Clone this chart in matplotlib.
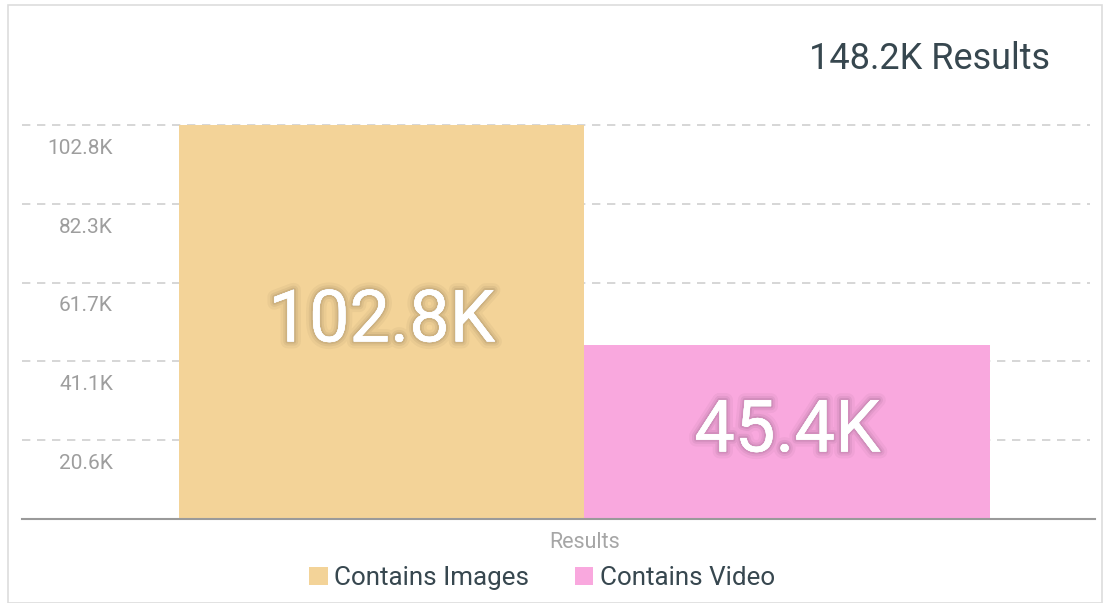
import matplotlib
matplotlib.use("Agg")
import matplotlib.pyplot as plt
import matplotlib.patheffects as pe
from matplotlib.patches import Patch, Rectangle

plt.rcParams['font.family'] = ['Roboto', 'DejaVu Sans']

categories = ["Contains Images", "Contains Video"]
values = [102.8, 45.4]  # thousands
colors = ["#F3D398", "#F9A8DE"]
ytick_vals = [20.56, 41.12, 61.68, 82.24, 102.8]
ytick_labels = ["20.6K", "41.1K", "61.7K", "82.3K", "102.8K"]
total_label = "148.2K Results"
xlabel = "Results"

W, H = 1110, 603
fig = plt.figure(figsize=(W / 100, H / 100), dpi=100)

# outer card border
fig.patches.append(Rectangle((8 / W, 0), (1102 - 8) / W, 1 - 5 / H, transform=fig.transFigure,
                             fill=False, edgecolor="#DDDDDD", linewidth=1.2))

ax = fig.add_axes([22 / W, 1 - 519 / H, (1095 - 22) / W, (519 - 100) / H])
ax.set_xlim(-0.887, 1.759)
ax.set_ylim(0, 109.3)

for v in ytick_vals:
    ax.axhline(v, xmin=0, xmax=(1090 - 22) / (1095 - 22), color="#CFCFCF",
               linestyle=(0, (5, 4)), linewidth=1.2, zorder=1)

xs = list(range(len(values)))
ax.bar(xs, values, width=1.0, color=colors, zorder=2)

glow = [pe.withStroke(linewidth=10, foreground=(0, 0, 0, 0.035)),
        pe.withStroke(linewidth=6, foreground=(0, 0, 0, 0.05)),
        pe.withStroke(linewidth=3, foreground=(0, 0, 0, 0.07)),
        pe.Normal()]
for x, v in zip(xs, values):
    ax.text(x, v / 2, f"{v:.1f}K", ha="center", va="center", color="white",
            fontsize=52, zorder=3, path_effects=glow)

for v, lab in zip(ytick_vals, ytick_labels):
    ax.annotate(lab, xy=(0, v), xycoords=("axes fraction", "data"),
                xytext=(91 * 0.72, -10), textcoords="offset points",
                ha="right", va="top", color="#9E9E9E", fontsize=15)

ax.set_xticks([])
ax.set_yticks([])
for s in ["top", "right", "left"]:
    ax.spines[s].set_visible(False)
ax.spines["bottom"].set_color("#9A9A9A")
ax.spines["bottom"].set_linewidth(1.5)

fig.text(585 / W, 1 - 542 / H, xlabel, ha="center", va="center", color="#A6A6A6", fontsize=15.5)
fig.text(1050 / W, 1 - 59 / H, total_label, ha="right", va="center", color="#37474F", fontsize=26)

handles = [Patch(facecolor=c, edgecolor="none") for c in colors]
fig.legend(handles, categories, loc="center", bbox_to_anchor=(542 / W, 1 - 578 / H),
           ncol=2, frameon=False, fontsize=18.7, handlelength=0.72, handleheight=0.72,
           handletextpad=0.25, columnspacing=1.75, labelcolor="#37474F")

fig.savefig("out.png", dpi=100, facecolor="white")
